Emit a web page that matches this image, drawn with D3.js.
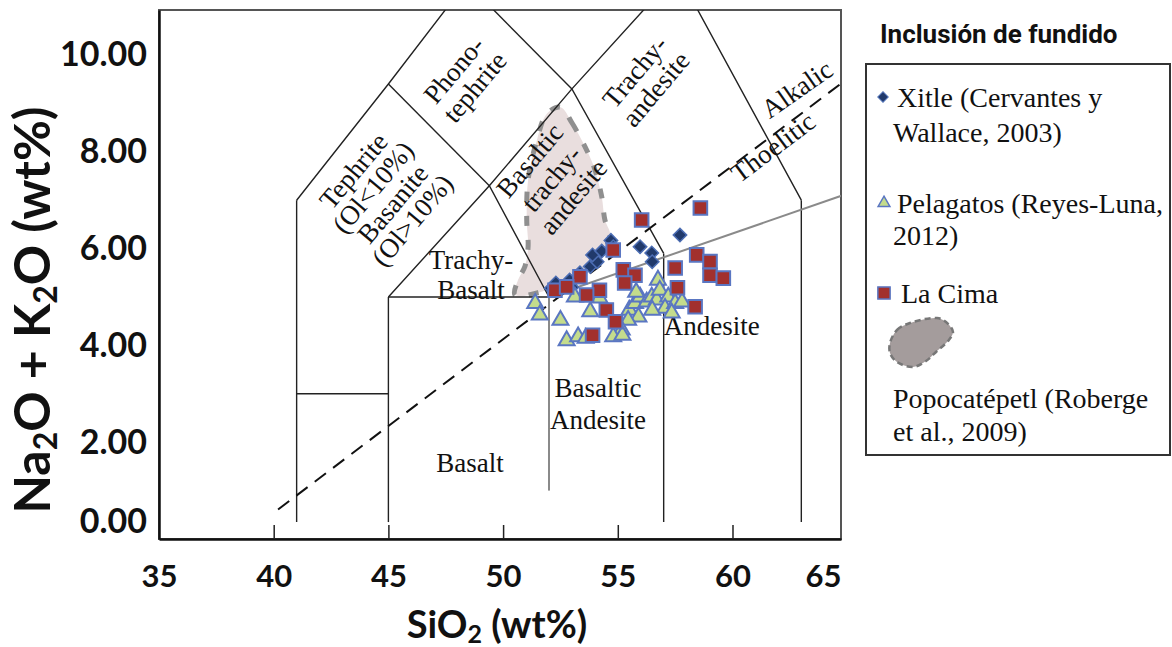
<!DOCTYPE html>
<html>
<head>
<meta charset="utf-8">
<script src="https://cdn.jsdelivr.net/npm/d3@7"></script>
<style>
  body { margin: 0; background: #fff; }
  svg { display: block; }
  .serif { font-family: "Liberation Serif", "Times New Roman", serif; fill: #111; }
  .axis text { font-family: Lato, "Open Sans", sans-serif; font-weight: 700; fill: #111; }
</style>
</head>
<body>
<svg id="chart" width="1172" height="647"></svg>
<script>
// Xitle melt inclusions (SiO2, Na2O+K2O)
const xitle = [
  [52.1, 5.18], [52.3, 5.29], [52.9, 5.35], [53.35, 5.5], [53.8, 5.63],
  [54.1, 5.73], [53.9, 5.87], [54.7, 6.17], [54.8, 6.04], [55.97, 6.04],
  [56.48, 5.91], [56.5, 5.73], [57.71, 6.28], [53.0, 5.2], [54.3, 5.95]
];
// Pelagatos
const pelagatos = [
  [51.4, 4.87], [51.6, 4.63], [52.5, 4.52], [52.77, 4.1], [53.27, 4.18],
  [53.13, 5.0], [53.8, 4.7], [55.5, 4.73], [55.75, 4.87], [55.97, 5.0],
  [56.26, 4.9], [56.48, 5.0], [56.7, 4.94], [55.9, 4.59], [55.45, 4.52],
  [55.17, 4.32], [54.8, 4.18], [55.2, 4.21], [53.6, 4.15], [56.75, 5.35],
  [56.83, 5.14], [57.2, 5.0], [57.06, 4.77], [57.5, 4.87], [57.35, 4.67],
  [56.5, 4.73], [57.8, 4.9], [55.8, 5.1], [54.2, 4.98]
];
// La Cima
const laCima = [
  [56.04, 6.59], [58.6, 6.84], [54.8, 5.97], [55.24, 5.56], [55.75, 5.45],
  [55.3, 5.29], [57.5, 5.6], [58.44, 5.87], [59.02, 5.73], [59.02, 5.45],
  [59.6, 5.39], [57.6, 5.19], [58.37, 4.8], [54.2, 5.14], [53.35, 5.42],
  [53.64, 5.04], [52.26, 5.14], [52.77, 5.21], [54.5, 4.73], [54.9, 4.49],
  [53.9, 4.21]
];
// Popocatépetl field outline (Roberge et al., 2009)
const popo = [
  [52.5, 8.92], [53.0, 8.6], [53.7, 7.98], [54.01, 7.62], [54.3, 7.07],
  [54.44, 6.59], [54.66, 6.32], [54.57, 6.12], [54.0, 5.72], [52.92, 5.35],
  [51.6, 5.1], [50.52, 5.04], [50.65, 5.35], [50.95, 5.63], [51.09, 6.04],
  [51.03, 6.59], [51.09, 7.42], [51.45, 8.2], [51.9, 8.78]
];

// TAS field boundaries
const tasLines = [
  [[41, 0.35], [41, 7]],
  [[41, 3], [45, 3]],
  [[45, 0.35], [45, 5]],
  [[45, 5], [52, 5]],
  [[57, 0.35], [57, 5.9]],
  [[63, 0.35], [63, 7]],
  [[41, 7], [45, 9.4], [48.4, 11.5]],
  [[45, 9.4], [49.4, 7.3]],
  [[45, 5], [49.4, 7.3], [52, 5]],
  [[49.4, 7.3], [53, 9.3], [57, 5.9]],
  [[53, 9.3], [57.6, 11.7], [63, 7]],
  [[48.4, 11.5], [53, 9.3]]
];
const greyLines = [
  [[52, 1.0], [52, 5]],
  [[52, 5], [64.8, 7.1]]
];
const alkalineLine = [[40.19, 0.61], [64.95, 9.49]];

const xTicks = [35, 40, 45, 50, 55, 60, 65];
const yTicks = [0, 2, 4, 6, 8, 10];

const svg = d3.select("#chart");
const x = d3.scaleLinear().domain([35, 64.73]).range([159, 841]);
const y = d3.scaleLinear().domain([0, 10.93]).range([539, 10]);
const line = d3.line().x(d => x(d[0])).y(d => y(d[1]));

svg.append("clipPath").attr("id", "plot")
  .append("rect")
  .attr("x", x.range()[0]).attr("y", y.range()[1])
  .attr("width", x.range()[1] - x.range()[0])
  .attr("height", y.range()[0] - y.range()[1]);

// frame
svg.append("rect")
  .attr("x", x.range()[0]).attr("y", y.range()[1])
  .attr("width", x.range()[1] - x.range()[0])
  .attr("height", y.range()[0] - y.range()[1])
  .attr("fill", "none").attr("stroke", "#555").attr("stroke-width", 2);

// Popocatépetl field
svg.append("path")
  .attr("d", d3.line().x(d => x(d[0])).y(d => y(d[1])).curve(d3.curveCatmullRomClosed)(popo))
  .attr("fill", "#e9dede")
  .attr("stroke", "#8f8f8f").attr("stroke-width", 5)
  .attr("stroke-dasharray", "10 14");

const lines = svg.append("g").attr("clip-path", "url(#plot)");
lines.selectAll("path.tas")
  .data(tasLines)
  .enter()
  .append("path")
  .classed("tas", true)
  .attr("d", line)
  .attr("fill", "none").attr("stroke", "#222").attr("stroke-width", 1.4);

lines.selectAll("path.grey")
  .data(greyLines)
  .enter()
  .append("path")
  .classed("grey", true)
  .attr("d", line)
  .attr("fill", "none").attr("stroke", "#8a8a8a").attr("stroke-width", 2);

svg.append("path")
  .attr("d", line(alkalineLine))
  .attr("fill", "none").attr("stroke", "#111").attr("stroke-width", 2)
  .attr("stroke-dasharray", "14 9");

// field names
const labels = [
  { at: [44.75, 7.1], rot: -50, lines: ["Tephrite", "(Ol<10%)", "Basanite", "(Ol>10%)"], lh: 0.95 },
  { at: [48.3, 9.52], rot: -50, lines: ["Phono-", "tephrite"], lh: 1.0 },
  { at: [52.1, 7.45], rot: -50, lines: ["Basaltic", "trachy-", "andesite"], lh: 1.05 },
  { at: [56.19, 9.48], rot: -50, lines: ["Trachy-", "andesite"], lh: 1.0 },
  { at: [48.6, 5.47], rot: 0, lines: ["Trachy-", "Basalt"], lh: 1.1 },
  { at: [48.56, 1.57], rot: 0, lines: ["Basalt"], lh: 1 },
  { at: [54.14, 2.79], rot: 0, lines: ["Basaltic", "Andesite"], lh: 1.18 },
  { at: [59.1, 4.4], rot: 0, lines: ["Andesite"], lh: 1 },
  { at: [62.8, 9.3], rot: -35, lines: ["Alkalic"], lh: 1 },
  { at: [61.75, 8.1], rot: -37, lines: ["Thoelitic"], lh: 1 }
];

const lab = svg.selectAll("text.field")
  .data(labels)
  .enter()
  .append("text")
  .classed("field serif", true)
  .attr("font-size", 27)
  .attr("text-anchor", "middle")
  .attr("transform", d => "translate(" + [x(d.at[0]), y(d.at[1])] + ") rotate(" + d.rot + ")");

lab.selectAll("tspan")
  .data(d => d.lines.map((t, i) => ({ t: t, i: i, n: d.lines.length, lh: d.lh })))
  .enter()
  .append("tspan")
  .attr("x", 0)
  .attr("y", d => ((d.i - (d.n - 1) / 2) * d.lh + 0.35) + "em")
  .text(d => d.t);

// points
const blueEdge = "#5a76c2";
svg.append("g").selectAll("path")
  .data(xitle)
  .enter()
  .append("path")
  .attr("d", d3.symbol().type(d3.symbolSquare).size(90))
  .attr("transform", d => "translate(" + [x(d[0]), y(d[1])] + ") rotate(45)")
  .attr("fill", "#213a6b").attr("stroke", "#4c6db3").attr("stroke-width", 1.5);

svg.append("g").selectAll("path")
  .data(pelagatos)
  .enter()
  .append("path")
  .attr("d", d3.symbol().type(d3.symbolTriangle).size(110))
  .attr("transform", d => "translate(" + [x(d[0]), y(d[1])] + ")")
  .attr("fill", "#c4dc8c").attr("stroke", blueEdge).attr("stroke-width", 2);

svg.append("g").selectAll("path")
  .data(laCima)
  .enter()
  .append("path")
  .attr("d", d3.symbol().type(d3.symbolSquare).size(185))
  .attr("transform", d => "translate(" + [x(d[0]), y(d[1])] + ")")
  .attr("fill", "#a2302d").attr("stroke", blueEdge).attr("stroke-width", 2);

// axes
const xAxis = svg.append("g")
  .attr("class", "axis")
  .attr("transform", "translate(0," + y.range()[0] + ")")
  .call(d3.axisBottom(x).tickValues(xTicks).tickFormat(d3.format("d"))
    .tickSizeInner(-14).tickSizeOuter(0).tickPadding(26));
xAxis.select(".domain").attr("stroke", "#111").attr("stroke-width", 2.5);
xAxis.selectAll(".tick line").attr("stroke", "#222").attr("stroke-width", 1.5)
  .filter(d => d === 35 || d === 65).remove();
xAxis.selectAll(".tick text").attr("font-size", 31)
  .filter(d => d === 65)
  .attr("text-anchor", "end")
  .attr("x", x.range()[1] - x(65));

const yAxis = svg.append("g")
  .attr("class", "axis")
  .attr("transform", "translate(" + x.range()[0] + ",0)")
  .call(d3.axisLeft(y).tickValues(yTicks).tickFormat(d3.format(".2f"))
    .tickSize(0).tickPadding(12));
yAxis.select(".domain").attr("stroke", "#111").attr("stroke-width", 2.5);
yAxis.selectAll(".tick text").attr("font-size", 34)
  .filter(d => d === 0).attr("dy", "-0.2em");

// axis titles
const yTitle = svg.append("text")
  .attr("transform", "translate(50,310) rotate(-90)")
  .attr("text-anchor", "middle")
  .attr("font-family", "Lato, 'Open Sans', sans-serif")
  .attr("font-weight", 700).attr("font-size", 50).attr("fill", "#111");
yTitle.append("tspan").text("Na");
yTitle.append("tspan").attr("font-size", 32).attr("dy", 7).text("2");
yTitle.append("tspan").attr("dy", -7).text("O + K");
yTitle.append("tspan").attr("font-size", 32).attr("dy", 7).text("2");
yTitle.append("tspan").attr("dy", -7).text("O (wt%)");

const xTitle = svg.append("text")
  .attr("x", 497).attr("y", 638)
  .attr("text-anchor", "middle")
  .attr("font-family", "Lato, 'Open Sans', sans-serif")
  .attr("font-weight", 700).attr("font-size", 38).attr("fill", "#111");
xTitle.append("tspan").text("SiO");
xTitle.append("tspan").attr("font-size", 25).attr("dy", 5).text("2");
xTitle.append("tspan").attr("dy", -5).text(" (wt%)");

// legend
svg.append("text")
  .attr("x", 880).attr("y", 43)
  .attr("font-family", "Roboto, 'Liberation Sans', sans-serif")
  .attr("font-weight", 700).attr("font-size", 26).attr("fill", "#111")
  .text("Inclusión de fundido");

const legend = svg.append("g");
legend.append("rect")
  .attr("x", 866).attr("y", 64).attr("width", 304).attr("height", 391)
  .attr("fill", "none").attr("stroke", "#333").attr("stroke-width", 2);

legend.append("path")
  .attr("d", d3.symbol().type(d3.symbolSquare).size(55))
  .attr("transform", "translate(883,97) rotate(45)")
  .attr("fill", "#213a6b").attr("stroke", "#4c6db3").attr("stroke-width", 1);
legend.append("path")
  .attr("d", d3.symbol().type(d3.symbolTriangle).size(60))
  .attr("transform", "translate(884,203)")
  .attr("fill", "#c4dc8c").attr("stroke", blueEdge).attr("stroke-width", 1.5);
legend.append("path")
  .attr("d", d3.symbol().type(d3.symbolSquare).size(150))
  .attr("transform", "translate(884,293)")
  .attr("fill", "#a2302d").attr("stroke", blueEdge).attr("stroke-width", 1.5);

const blobIcon = [[890, 343], [897, 330], [910, 323], [937, 318], [946, 322], [953, 332],
  [948, 341], [937, 351], [926, 361], [913, 367], [897, 362], [890, 353]];
legend.append("path")
  .attr("d", d3.line().curve(d3.curveCatmullRomClosed)(blobIcon))
  .attr("fill", "#a49c9c").attr("stroke", "#777").attr("stroke-width", 2.5)
  .attr("stroke-dasharray", "6 4");

const legendText = [
  { x: 897, y: 107, t: "Xitle (Cervantes y" },
  { x: 893, y: 142, t: "Wallace, 2003)" },
  { x: 897, y: 213, t: "Pelagatos (Reyes-Luna," },
  { x: 893, y: 245, t: "2012)" },
  { x: 901, y: 303, t: "La Cima" },
  { x: 893, y: 408, t: "Popocatépetl (Roberge" },
  { x: 893, y: 441, t: "et al., 2009)" }
];
legend.selectAll("text")
  .data(legendText)
  .enter()
  .append("text")
  .classed("serif", true)
  .attr("font-size", 28)
  .attr("x", d => d.x).attr("y", d => d.y)
  .text(d => d.t);
</script>
</body>
</html>
